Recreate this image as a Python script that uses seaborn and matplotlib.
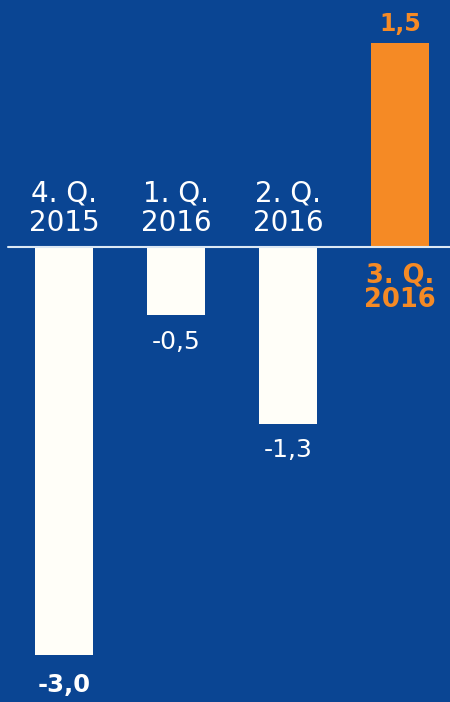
import matplotlib
matplotlib.use("Agg")
import matplotlib.pyplot as plt
import seaborn as sns
import pandas as pd

categories = ["4. Q.\n2015", "1. Q.\n2016", "2. Q.\n2016", "3. Q.\n2016"]
values = [-3.0, -0.5, -1.3, 1.5]
value_labels = ["-3,0", "-0,5", "-1,3", "1,5"]
label_bold = [True, False, False, True]

BG = "#0a4593"
ORANGE = "#f58a25"
WHITE = "#fffef8"
colors = [ORANGE if v > 0 else WHITE for v in values]

sns.set_theme(style="white")
plt.rcParams['font.family'] = ['DejaVu Sans']

df = pd.DataFrame({"cat": categories, "val": values})
fig = plt.figure(figsize=(4.5, 7.02), dpi=100)
fig.patch.set_facecolor(BG)
ax = fig.add_axes([0, 0, 1, 1])
ax.set_facecolor(BG)

sns.barplot(data=df, x="cat", y="val", hue="cat", palette=colors, legend=False,
            width=0.52, saturation=1, linewidth=0, ax=ax)

ax.set_xlim(-0.571, 3.446)
ax.set_ylim(-3.346, 1.816)
ax.axhline(0, xmin=0.018, xmax=1, color="#dce8f4", lw=1.5, zorder=3)
ax.set_axis_off()

for i, (cat, v, lab, b) in enumerate(zip(categories, values, value_labels, label_bold)):
    if v < 0:
        ax.annotate(cat, (i, 0), xytext=(0, 28), textcoords="offset points",
                    ha="center", va="center", color="white", fontsize=20,
                    linespacing=1.08)
        ax.annotate(lab, (i, v), xytext=(0, -10.5 if not b else -13), textcoords="offset points",
                    ha="center", va="top", color="white", fontsize=18 if not b else 17.5,
                    fontweight="bold" if b else "normal")
    else:
        ax.annotate(cat, (i, 0), xytext=(0, -29.5), textcoords="offset points",
                    ha="center", va="center", color=ORANGE, fontsize=18.5,
                    fontweight="bold", linespacing=0.95)
        ax.annotate(lab, (i, v), xytext=(0, 5), textcoords="offset points",
                    ha="center", va="bottom", color=ORANGE, fontsize=17,
                    fontweight="bold")

fig.savefig("out.png", dpi=100, facecolor=BG)
